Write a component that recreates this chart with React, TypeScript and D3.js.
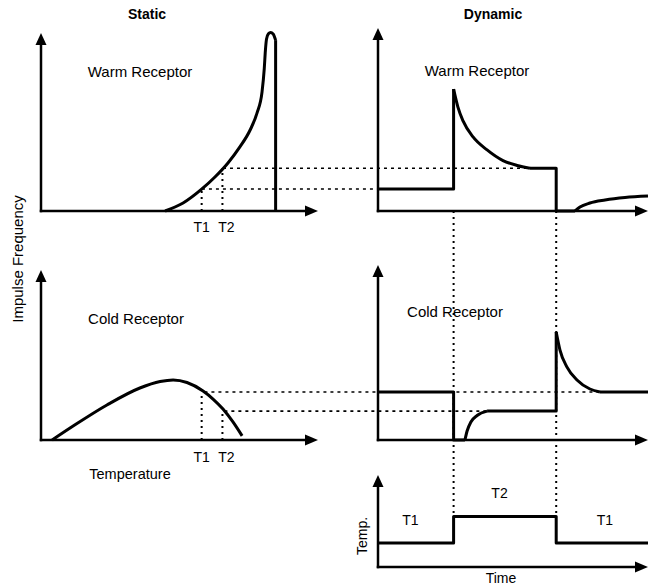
import React from "react";
import * as d3 from "d3";

// ---------- DATA ----------
// Static panels: temperature (0-100, arbitrary units) vs impulse frequency (0-100)
const staticTickLabels = ["T1", "T2"];
const staticTickTemps = [58, 65.5];

const warmStaticTemp = [44.8, 51.3, 58.1, 62.8, 67.5, 71.8, 75.5, 78, 79.8, 80.6, 81.0, 81.4, 82.1, 82.9, 83.8, 84.7];
const warmStaticFreq = [0, 4.5, 12.4, 19.1, 27, 36, 45.5, 55.1, 66.9, 80, 90, 96.5, 99.6, 100.3, 99.5, 96];
const warmStaticDropTemp = [84.7, 84.7];
const warmStaticDropFreq = [96, 0];

const coldStaticTemp = [4, 11.6, 23.8, 35.7, 43, 47.7, 52.7, 58.5, 62.1, 65.7, 69.3, 72.6];
const coldStaticFreq = [0, 8.2, 20.6, 30.6, 34.4, 35.3, 33.8, 28.8, 24.1, 18.2, 10.6, 2.4];

// guide levels (frequency at T1 / T2) and where guides start (static temp) and end (dynamic time)
const warmGuideLevels = [12.4, 24];
const warmGuideFrom = [58.1, 65.7];
const warmGuideTo = [0, 56];
const coldGuideLevels = [28.2, 17];
const coldGuideFrom = [59, 66.2];
const coldGuideTo = [100, 40.4];

// Dynamic panels: time (0-100) vs impulse frequency
const stepTimes = [28, 66];

const warmDynStepTime = [0, 28, 28];
const warmDynStepFreq = [12.4, 12.4, 68.5];
const warmDynDecayTime = [28, 29.6, 31.5, 35.2, 40.4, 46.3, 51.5, 56.3];
const warmDynDecayFreq = [68.5, 58.4, 50.6, 41.6, 34.3, 28.3, 25.6, 24];
const warmDynOffTime = [56.3, 66, 66, 73];
const warmDynOffFreq = [24, 24, 0, 0];
const warmDynRecTime = [73, 74.8, 78.5, 84.1, 91.5, 100];
const warmDynRecFreq = [0, 2.2, 4.5, 6.2, 7.6, 8.4];

const coldDynStepTime = [0, 28, 28, 32.2];
const coldDynStepFreq = [28.2, 28.2, 0, 0];
const coldDynRecTime = [32.2, 33, 34.4, 36.7, 40.4];
const coldDynRecFreq = [0, 5.3, 10.6, 14.4, 17];
const coldDynOnTime = [40.4, 66, 66];
const coldDynOnFreq = [17, 17, 63.5];
const coldDynDecayTime = [66, 67.4, 70, 73.7, 78.5, 82.2];
const coldDynDecayFreq = [63.5, 52.9, 42.9, 35.3, 30, 28.2];
const coldDynTailTime = [82.2, 100];
const coldDynTailFreq = [28.2, 28.2];

// Temperature stimulus
const tempTime = [0, 28, 28, 66, 66, 100];
const tempValue = [26, 26, 55, 55, 26, 26];
const tempLabels = ["T1", "T2", "T1"];
const tempLabelTimes = [12, 45, 84];
const tempLabelValues = [26, 55, 26];

// ---------- LAYOUT ----------
const W = 650;
const H = 585;
const FONT = "'Liberation Sans', Arial, Helvetica, sans-serif";

const xStatic = d3.scaleLinear().domain([0, 100]).range([41, 318]);
const xDyn = d3.scaleLinear().domain([0, 100]).range([378, 648]);
const yWarm = d3.scaleLinear().domain([0, 100]).range([211, 33]);
const yCold = d3.scaleLinear().domain([0, 100]).range([440, 270]);
const yTemp = d3.scaleLinear().domain([0, 100]).range([567, 475]);

type P = [number, number];
const zip = (a: number[], b: number[]): P[] => a.map((v, i) => [v, b[i]] as P);

function path(xs: any, ys: any, pts: P[], curve: any = d3.curveLinear) {
  return (
    d3
      .line<P>()
      .x((d) => xs(d[0]))
      .y((d) => ys(d[1]))
      .curve(curve)(pts) || ""
  );
}

const solid = { fill: "none", stroke: "#000", strokeWidth: 3, strokeLinejoin: "round" as const };
const dashH = { fill: "none", stroke: "#000", strokeWidth: 1.6, strokeDasharray: "3 4" };
const dashV = { fill: "none", stroke: "#000", strokeWidth: 2, strokeDasharray: "2 4" };

function Axes({ xs, ys, yTop, xTip }: { xs: any; ys: any; yTop: number; xTip: number }) {
  const x0 = xs(0);
  const y0 = ys(0);
  const yt = ys(yTop);
  const xt = xs(xTip);
  return (
    <g>
      <line x1={x0} y1={y0} x2={x0} y2={yt + 10} stroke="#000" strokeWidth={2.5} strokeLinecap="square" />
      <line x1={x0} y1={y0} x2={xt - 10} y2={y0} stroke="#000" strokeWidth={2.5} strokeLinecap="square" />
      <path d={`M${x0},${yt} L${x0 - 5.5},${yt + 12} L${x0 + 5.5},${yt + 12} Z`} fill="#000" />
      <path d={`M${xt},${y0} L${xt - 13},${y0 - 5.5} L${xt - 13},${y0 + 5.5} Z`} fill="#000" />
    </g>
  );
}

export default function App() {
  return (
    <svg
      width={W}
      height={H}
      viewBox={`0 0 ${W} ${H}`}
      style={{ position: "absolute", left: 0, top: 0, background: "#fff" }}
      fontFamily={FONT}
    >
      <rect width={W} height={H} fill="#fff" />

      {/* Titles */}
      <text x={147} y={19} fontSize={14} fontWeight="bold" textAnchor="middle">Static</text>
      <text x={493} y={19} fontSize={14} fontWeight="bold" textAnchor="middle">Dynamic</text>

      {/* Y label */}
      <text transform="translate(23,259) rotate(-90)" fontSize={15} textAnchor="middle">
        Impulse Frequency
      </text>

      {/* ===== Guides (dashed) ===== */}
      {warmGuideLevels.map((lv, i) => (
        <path
          key={"wg" + i}
          d={`M${xStatic(warmGuideFrom[i])},${yWarm(lv)} L${xDyn(warmGuideTo[i])},${yWarm(lv)}`}
          {...dashH}
        />
      ))}
      {coldGuideLevels.map((lv, i) => (
        <path
          key={"cg" + i}
          d={`M${xStatic(coldGuideFrom[i])},${yCold(lv)} L${xDyn(coldGuideTo[i])},${yCold(lv)}`}
          {...dashH}
        />
      ))}
      {staticTickTemps.map((t, i) => (
        <g key={"sv" + i}>
          <path d={`M${xStatic(t)},${yWarm(0)} L${xStatic(t)},${yWarm(warmGuideLevels[i])}`} {...dashV} />
          <path d={`M${xStatic(t)},${yCold(0)} L${xStatic(t)},${yCold(coldGuideLevels[i])}`} {...dashV} />
        </g>
      ))}
      {stepTimes.map((t, i) => (
        <path key={"dv" + i} d={`M${xDyn(t)},${yWarm(0)} L${xDyn(t)},${yTemp(55)}`} {...dashV} />
      ))}

      {/* ===== Warm static ===== */}
      <Axes xs={xStatic} ys={yWarm} yTop={100} xTip={100} />
      <text x={140} y={77} fontSize={15} textAnchor="middle">Warm Receptor</text>
      <path d={path(xStatic, yWarm, zip(warmStaticTemp, warmStaticFreq), d3.curveMonotoneX)} {...solid} />
      <path d={path(xStatic, yWarm, zip(warmStaticDropTemp, warmStaticDropFreq))} {...solid} />
      {staticTickLabels.map((l, i) => (
        <text key={"wt" + i} x={xStatic(staticTickTemps[i]) + (i ? 4 : 0)} y={232} fontSize={14} textAnchor="middle">
          {l}
        </text>
      ))}

      {/* ===== Cold static ===== */}
      <Axes xs={xStatic} ys={yCold} yTop={100} xTip={100} />
      <text x={136} y={324} fontSize={15} textAnchor="middle">Cold Receptor</text>
      <path d={path(xStatic, yCold, zip(coldStaticTemp, coldStaticFreq), d3.curveMonotoneX)} {...solid} />
      {staticTickLabels.map((l, i) => (
        <text key={"ct" + i} x={xStatic(staticTickTemps[i]) + (i ? 4 : 0)} y={462} fontSize={14} textAnchor="middle">
          {l}
        </text>
      ))}
      <text x={130} y={479} fontSize={14.5} textAnchor="middle">Temperature</text>

      {/* ===== Warm dynamic ===== */}
      <Axes xs={xDyn} ys={yWarm} yTop={102.8} xTip={100} />
      <text x={477} y={76} fontSize={15} textAnchor="middle">Warm Receptor</text>
      <path d={path(xDyn, yWarm, zip(warmDynStepTime, warmDynStepFreq))} {...solid} />
      <path d={path(xDyn, yWarm, zip(warmDynDecayTime, warmDynDecayFreq), d3.curveMonotoneX)} {...solid} />
      <path d={path(xDyn, yWarm, zip(warmDynOffTime, warmDynOffFreq))} {...solid} />
      <path d={path(xDyn, yWarm, zip(warmDynRecTime, warmDynRecFreq), d3.curveMonotoneX)} {...solid} />

      {/* ===== Cold dynamic ===== */}
      <Axes xs={xDyn} ys={yCold} yTop={103} xTip={100} />
      <text x={455} y={317} fontSize={15} textAnchor="middle">Cold Receptor</text>
      <path d={path(xDyn, yCold, zip(coldDynStepTime, coldDynStepFreq))} {...solid} />
      <path d={path(xDyn, yCold, zip(coldDynRecTime, coldDynRecFreq), d3.curveMonotoneX)} {...solid} />
      <path d={path(xDyn, yCold, zip(coldDynOnTime, coldDynOnFreq))} {...solid} />
      <path d={path(xDyn, yCold, zip(coldDynDecayTime, coldDynDecayFreq), d3.curveMonotoneX)} {...solid} />
      <path d={path(xDyn, yCold, zip(coldDynTailTime, coldDynTailFreq))} {...solid} />

      {/* ===== Temperature stimulus ===== */}
      <Axes xs={xDyn} ys={yTemp} yTop={100} xTip={100} />
      <path d={path(xDyn, yTemp, zip(tempTime, tempValue))} {...solid} />
      {tempLabels.map((l, i) => (
        <text
          key={"tl" + i}
          x={xDyn(tempLabelTimes[i])}
          y={yTemp(tempLabelValues[i]) - 18}
          fontSize={14}
          textAnchor="middle"
        >
          {l}
        </text>
      ))}
      <text transform="translate(367,536) rotate(-90)" fontSize={14} textAnchor="middle">Temp.</text>
      <text x={501} y={583} fontSize={14} textAnchor="middle">Time</text>
    </svg>
  );
}
